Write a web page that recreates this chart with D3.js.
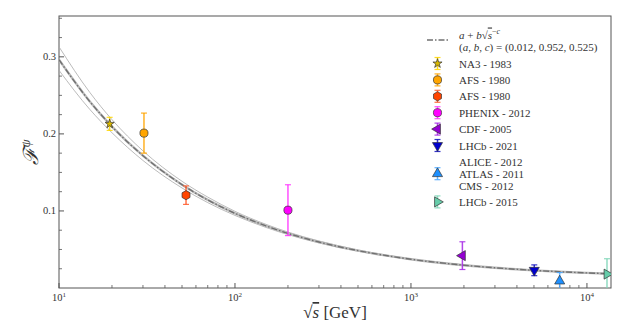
<!DOCTYPE html>
<meta charset="utf-8">
<script src="https://d3js.org/d3.v7.min.js"></script>
<style>
  body { margin: 0; background: white; }
  text { font-family: "Liberation Serif", "DejaVu Serif", serif; fill: #333; }
</style>
<body>
<div id="chart"></div>
<script>
// fit a + b*sqrt(s)^-c and its band
var curveX   = [10, 15, 20, 30, 50, 70, 100, 150, 200, 300, 500, 700, 1000, 2000, 3000, 5000, 7000, 10000, 13700];
var fitMid   = [0.2962, 0.2417, 0.2095, 0.1717, 0.1341, 0.1143, 0.0969, 0.0806, 0.0709, 0.0597, 0.0485, 0.0426, 0.0373, 0.0296, 0.0262, 0.0229, 0.0211, 0.0196, 0.0184];
var fitUp    = [0.3130, 0.2535, 0.2185, 0.1780, 0.1385, 0.1180, 0.0995, 0.0826, 0.0726, 0.0610, 0.0494, 0.0433, 0.0379, 0.0300, 0.0265, 0.0232, 0.0213, 0.0198, 0.0186];
var fitLow   = [0.2825, 0.2315, 0.2015, 0.1655, 0.1298, 0.1108, 0.0942, 0.0786, 0.0693, 0.0585, 0.0477, 0.0420, 0.0368, 0.0293, 0.0259, 0.0227, 0.0209, 0.0194, 0.0182];

// measurements
var expNames = [["NA3 - 1983"], ["AFS - 1980"], ["AFS - 1980"], ["PHENIX - 2012"], ["CDF - 2005"],
                ["LHCb - 2021"], ["ALICE - 2012", "ATLAS - 2011", "CMS - 2012"], ["LHCb - 2015"]];
var expSqrtS = [19.4, 30.4, 52.7, 200, 1960, 5020, 7000, 13000];
var expF     = [0.213, 0.201, 0.1205, 0.101, 0.042, 0.023, 0.009, 0.018];
var expErr   = [0.0085, 0.026, 0.012, 0.033, 0.018, 0.007, 0.011, 0.020];

var expShapes = ["star", "circle", "hexagon", "circle", "triLeft", "triDown", "triUp", "triRight"];
var expFill   = ["#d9b800", "#ffa500", "#ff4500", "#ff00ff", "#9400d3", "#0000cd", "#1e90ff", "#66cdaa"];
var expBar    = ["#ffd700", "#ffa500", "#ff5a2a", "#ff33ff", "#a526e6", "#1010c0", "#4aa8ff", "#7fd6b8"];

var xTicks = [10, 100, 1000, 10000];
var yTicks = [0.1, 0.2, 0.3];

var W = 623, H = 328;
var L = 59, R = 611, T = 16, B = 288;

var svg = d3.select("#chart").append("svg")
  .attr("width", W).attr("height", H);

var x = d3.scaleLog().domain([10, 13700]).range([L, R]);
var y = d3.scaleLinear().domain([0, 0.353]).range([B, T]);

svg.append("defs").append("clipPath").attr("id", "clip")
  .append("rect").attr("x", L).attr("y", T).attr("width", R - L).attr("height", B - T);

// frame
svg.append("rect").attr("x", L).attr("y", T).attr("width", R - L).attr("height", B - T)
  .attr("fill", "none").attr("stroke", "#555").attr("stroke-width", 1);

// x ticks (inward)
var xMinor = [];
for (var d = 10; d < 13700; d *= 10) for (var k = 2; k <= 9; k++) if (d * k < 13700) xMinor.push(d * k);
svg.append("g").selectAll("line.xmaj").data(xTicks).enter().append("line")
  .attr("x1", d => x(d)).attr("x2", d => x(d)).attr("y1", B).attr("y2", B - 5)
  .attr("stroke", "#555");
svg.append("g").selectAll("line.xmin").data(xMinor).enter().append("line")
  .attr("x1", d => x(d)).attr("x2", d => x(d)).attr("y1", B).attr("y2", B - 3)
  .attr("stroke", "#555").attr("stroke-width", 0.8);
var xl = svg.append("g").selectAll("text").data(xTicks).enter().append("text")
  .attr("x", d => x(d)).attr("y", B + 13).attr("text-anchor", "middle")
  .style("font-size", "10.5px");
xl.append("tspan").text("10");
xl.append("tspan").attr("dy", -4).style("font-size", "7px").text(d => Math.round(Math.log10(d)));

// y ticks
var yMinor = d3.range(0.025, 0.353, 0.025).filter(v => Math.abs(v * 10 - Math.round(v * 10)) > 1e-6);
svg.append("g").selectAll("line").data(yTicks).enter().append("line")
  .attr("x1", L).attr("x2", L + 5).attr("y1", d => y(d)).attr("y2", d => y(d))
  .attr("stroke", "#555");
svg.append("g").selectAll("line").data(yMinor).enter().append("line")
  .attr("x1", L).attr("x2", L + 3).attr("y1", d => y(d)).attr("y2", d => y(d))
  .attr("stroke", "#555").attr("stroke-width", 0.8);
svg.append("g").selectAll("text").data(yTicks).enter().append("text")
  .attr("x", L - 3).attr("y", d => y(d) + 3.5).attr("text-anchor", "end")
  .style("font-size", "10.5px").text(d => d.toFixed(1));

// axis labels
var xlab = svg.append("text").attr("x", 335).attr("y", 318).attr("text-anchor", "middle")
  .style("font-size", "17px");
xlab.append("tspan").text("\u221A");
xlab.append("tspan").style("font-style", "italic").style("text-decoration", "overline").text("s");
xlab.append("tspan").text(" [GeV]");

var ylab = svg.append("text").attr("transform", "translate(38,152) rotate(-90)")
  .attr("text-anchor", "middle").style("font-size", "21px");
ylab.append("tspan").style("font-style", "italic").text("\u2131");
ylab.append("tspan").attr("dy", -8).style("font-size", "13px").style("font-style", "italic").text("\u03C8");

// fit band and central curve
var plot = svg.append("g").attr("clip-path", "url(#clip)");
var line = d3.line().curve(d3.curveMonotoneX);
function pts(arr) { return curveX.map((v, i) => [x(v), y(arr[i])]); }
[fitUp, fitLow].forEach(function(arr) {
  plot.append("path").attr("d", line(pts(arr)))
    .attr("fill", "none").attr("stroke", "#aaa").attr("stroke-width", 0.8);
});
plot.append("path").attr("d", line(pts(fitMid)))
  .attr("fill", "none").attr("stroke", "#bbb").attr("stroke-width", 2.4);
plot.append("path").attr("d", line(pts(fitMid)))
  .attr("fill", "none").attr("stroke", "#707070").attr("stroke-width", 1.4)
  .attr("stroke-dasharray", "6,2,1.5,2");

// markers
function markerPath(shape) {
  var s;
  switch (shape) {
    case "star": return d3.symbol().type(d3.symbolStar).size(26)();
    case "circle": return d3.symbol().type(d3.symbolCircle).size(52)();
    case "hexagon":
      s = 4.6;
      return "M" + d3.range(6).map(i => [s * Math.sin(i * Math.PI / 3), -s * Math.cos(i * Math.PI / 3)].join(",")).join("L") + "Z";
    default: return d3.symbol().type(d3.symbolTriangle).size(44)();
  }
}
function markerRot(shape) {
  return shape === "triDown" ? 180 : shape === "triLeft" ? -90 : shape === "triRight" ? 90 : 0;
}
function drawPoint(g, cx, cy, ytop, ybot, i) {
  g.append("line").attr("x1", cx).attr("x2", cx).attr("y1", ytop).attr("y2", ybot)
    .attr("stroke", expBar[i]).attr("stroke-width", 1.5).attr("opacity", 0.85);
  [ytop, ybot].forEach(function(yy) {
    g.append("line").attr("x1", cx - 3).attr("x2", cx + 3).attr("y1", yy).attr("y2", yy)
      .attr("stroke", expBar[i]).attr("stroke-width", 1.2).attr("opacity", 0.85);
  });
  g.append("path").attr("d", markerPath(expShapes[i]))
    .attr("transform", "translate(" + cx + "," + cy + ") rotate(" + markerRot(expShapes[i]) + ")")
    .attr("fill", expFill[i]).attr("stroke", "#333").attr("stroke-width", 0.7);
}
expF.forEach(function(v, i) {
  drawPoint(plot, x(expSqrtS[i]), y(v), y(v + expErr[i]), y(v - expErr[i]), i);
});

// legend
var lg = svg.append("g");
lg.append("line").attr("x1", 427).attr("x2", 450).attr("y1", 40).attr("y2", 40)
  .attr("stroke", "#707070").attr("stroke-width", 1.4).attr("stroke-dasharray", "6,2,1.5,2");
var t1 = lg.append("text").attr("x", 459).attr("y", 38.5).style("font-size", "11px");
t1.append("tspan").style("font-style", "italic").text("a");
t1.append("tspan").text(" + ");
t1.append("tspan").style("font-style", "italic").text("b");
t1.append("tspan").text("\u221A");
t1.append("tspan").style("font-style", "italic").style("text-decoration", "overline").text("s");
t1.append("tspan").attr("dy", -5).style("font-size", "8px").text("\u2212");
t1.append("tspan").style("font-size", "8px").style("font-style", "italic").text("c");
var t2 = lg.append("text").attr("x", 459).attr("y", 51).style("font-size", "11px");
t2.append("tspan").text("(");
t2.append("tspan").style("font-style", "italic").text("a");
t2.append("tspan").text(", ");
t2.append("tspan").style("font-style", "italic").text("b");
t2.append("tspan").text(", ");
t2.append("tspan").style("font-style", "italic").text("c");
t2.append("tspan").text(") = (0.012, 0.952, 0.525)");

var rowY = 63.5, step = 16.4, lineGap = 11.8;
expNames.forEach(function(lines, i) {
  var extra = (lines.length - 1) / 2 * lineGap;
  rowY += extra;
  drawPoint(lg, 437.5, rowY, rowY - 6, rowY + 6, i);
  lines.forEach(function(s, j) {
    lg.append("text").attr("x", 459).attr("y", rowY + 4 + (j - (lines.length - 1) / 2) * lineGap)
      .style("font-size", "11px").text(s);
  });
  rowY += extra + step;
});
</script>
</body>
